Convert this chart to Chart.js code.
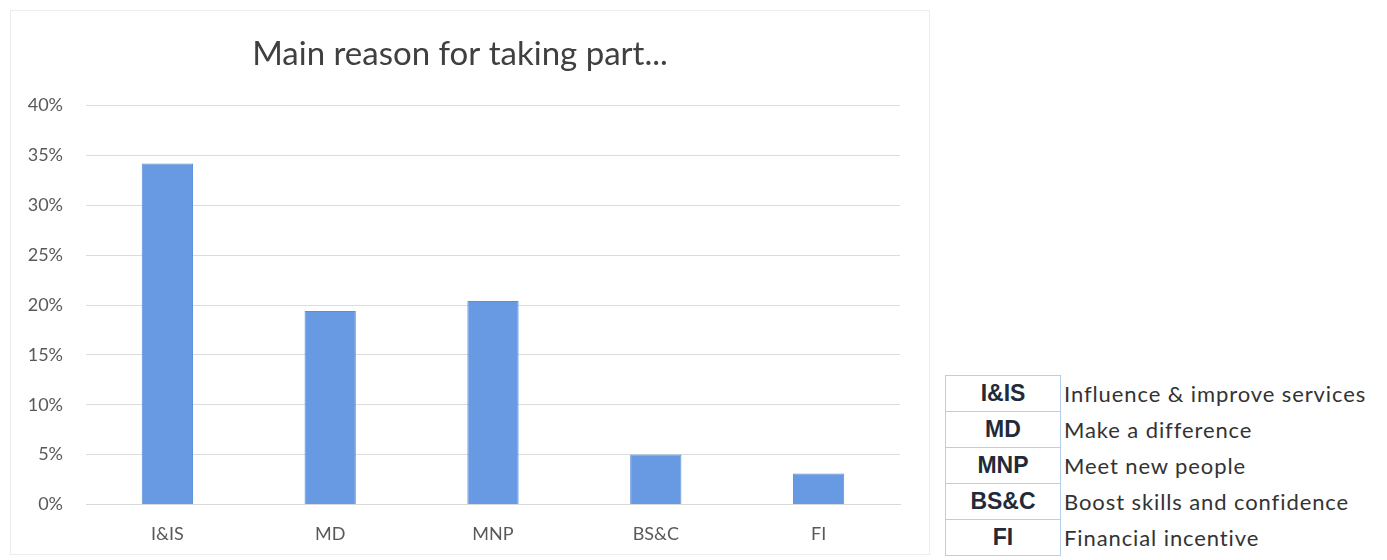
<!DOCTYPE html>
<html lang="en">
<head>
  <meta charset="UTF-8" />
  <title>Main reason for taking part</title>
  <script src="https://cdn.jsdelivr.net/npm/chart.js"></script>
  <style>
    body { margin: 0; background: #fff; width: 1387px; height: 560px; position: relative; overflow: hidden; font-family: Lato, "Open Sans", sans-serif; }
    #box { position: absolute; left: 10px; top: 10px; width: 920px; height: 545px; border: 1px solid #ececec; box-sizing: border-box; }
    #wrap { position: absolute; left: 0; top: 0; width: 930px; height: 572px; }
    #legendTable { position: absolute; left: 945px; top: 375px; border-collapse: collapse; }
    #legendTable td { height: 35px; padding: 0; }
    #legendTable td.code { width: 114px; text-align: center; font-family: "Liberation Sans", Arial, sans-serif; font-size: 23px; font-weight: bold; color: #222a3a; border: 1px solid #b5d0ec; }
    #legendTable td.desc { padding-left: 3px; font-size: 22px; letter-spacing: 0.9px; color: #333; white-space: nowrap; }
  </style>
</head>
<body>
  <div id="box"></div>
  <div id="wrap"><canvas id="grafico"></canvas></div>
  <table id="legendTable"></table>

  <script>
    const categorias = ["I&IS", "MD", "MNP", "BS&C", "FI"];
    const descripciones = ["Influence & improve services", "Make a difference", "Meet new people", "Boost skills and confidence", "Financial incentive"];
    const porcentajes = [34.2, 19.4, 20.4, 5.0, 3.1];

    // Tabla de abreviaturas
    const tabla = document.getElementById("legendTable");
    categorias.forEach((c, i) => {
      const tr = document.createElement("tr");
      const td1 = document.createElement("td");
      td1.className = "code";
      td1.textContent = c;
      const td2 = document.createElement("td");
      td2.className = "desc";
      td2.textContent = descripciones[i];
      tr.appendChild(td1);
      tr.appendChild(td2);
      tabla.appendChild(tr);
    });

    const ctx = document.getElementById("grafico").getContext("2d");
    new Chart(ctx, {
      type: 'bar',
      data: {
        labels: categorias,
        datasets: [{
          data: porcentajes,
          backgroundColor: '#679ae2',
          borderColor: '#5a8fdb',
          borderWidth: 1,
          barPercentage: 1,
          categoryPercentage: 0.315
        }]
      },
      options: {
        responsive: true,
        maintainAspectRatio: false,
        animation: false,
        layout: { padding: { left: 20, right: 30, top: 0, bottom: 8 } },
        plugins: {
          legend: { display: false },
          tooltip: { enabled: false },
          title: {
            display: true,
            text: 'Main reason for taking part...',
            color: '#404040',
            font: { family: 'Lato', size: 33, weight: 'normal' },
            padding: { top: 35, bottom: 31 }
          }
        },
        scales: {
          x: {
            grid: { display: false, drawTicks: false },
            border: { color: '#d9d9d9' },
            ticks: { color: '#595959', font: { family: 'Lato', size: 18 }, padding: 19 }
          },
          y: {
            min: 0,
            max: 40,
            afterFit: (axis) => { axis.width = 66; },
            grid: { color: '#dcdcdc', drawTicks: false },
            border: { display: false },
            ticks: {
              stepSize: 5,
              color: '#595959',
              font: { family: 'Lato', size: 18 },
              padding: 23,
              callback: v => v + '%'
            }
          }
        }
      }
    });
  </script>
</body>
</html>
